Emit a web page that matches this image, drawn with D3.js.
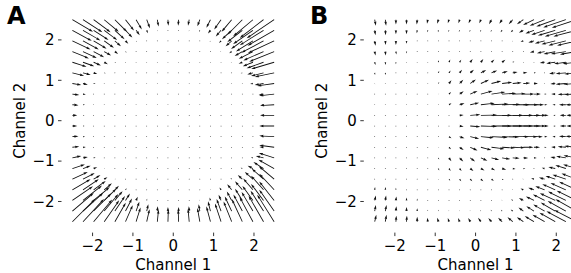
<!DOCTYPE html>
<html>
<head>
<meta charset="utf-8">
<script src="https://cdn.jsdelivr.net/npm/d3@7"></script>
<style>
  body { margin: 0; background: #fff; }
  text { font-family: "DejaVu Sans", sans-serif; fill: #000; }
</style>
</head>
<body>
<div id="chart"></div>
<script>
// grid of the quiver (20 x 20, channel values)
const gridX = [-2.5, -2.237, -1.974, -1.711, -1.447, -1.184, -0.921, -0.658, -0.395, -0.132,
               0.132, 0.395, 0.658, 0.921, 1.184, 1.447, 1.711, 1.974, 2.237, 2.5];
const gridY = [2.5, 2.237, 1.974, 1.711, 1.447, 1.184, 0.921, 0.658, 0.395, 0.132,
               -0.132, -0.395, -0.658, -0.921, -1.184, -1.447, -1.711, -1.974, -2.237, -2.5];
const ticks = [-2, -1, 0, 1, 2];

// panel A, vector components in hundredths of a channel unit (rows top -> bottom)
const aU = [
  [51,48,42,36,30,21,14,8,3,1,-1,-3,-6,-10,-17,-25,-37,-49,-59,-68],
  [48,43,37,32,24,17,9,3,1,0,0,-1,-2,-6,-13,-24,-37,-49,-59,-66],
  [45,39,32,24,15,7,2,1,0,0,0,0,-1,-2,-5,-15,-28,-42,-55,-65],
  [41,34,26,17,8,3,1,1,0,0,0,0,0,0,-2,-6,-19,-35,-50,-62],
  [35,28,18,9,3,1,0,0,0,0,0,0,0,0,0,-2,-9,-25,-42,-57],
  [29,19,9,4,1,0,0,0,0,0,0,0,0,0,0,0,-4,-14,-31,-48],
  [22,12,5,1,0,0,0,0,0,0,0,0,0,0,0,0,0,-7,-22,-42],
  [17,7,2,0,0,0,0,0,0,0,0,0,0,0,0,0,0,0,-12,-37],
  [15,5,1,0,0,0,0,0,0,0,0,0,0,0,0,0,0,0,-7,-35],
  [12,4,1,0,0,0,0,0,0,0,0,0,0,0,0,0,0,0,-5,-35],
  [12,4,1,0,0,0,0,0,0,0,0,0,0,0,0,0,0,0,-5,-37],
  [15,5,1,0,0,0,0,0,0,0,0,0,0,0,0,0,0,0,-6,-37],
  [17,7,2,0,0,0,0,0,0,0,0,0,0,0,0,0,0,0,-10,-37],
  [22,12,5,0,0,0,0,0,0,0,0,0,0,0,0,0,0,-5,-19,-38],
  [31,19,9,2,0,0,0,0,0,0,0,0,0,0,0,0,-4,-13,-25,-39],
  [38,29,17,8,2,0,0,0,0,0,0,0,0,0,0,-3,-11,-20,-29,-38],
  [45,39,30,19,10,3,1,0,0,0,0,0,0,-1,-4,-11,-18,-24,-31,-37],
  [51,47,40,30,19,11,4,1,0,0,0,0,-1,-2,-6,-12,-18,-26,-31,-37],
  [53,50,44,35,25,16,8,4,1,0,0,-1,-3,-6,-11,-17,-22,-28,-32,-37],
  [56,52,46,37,27,18,11,7,3,1,-1,-3,-6,-10,-15,-20,-26,-33,-37,-42]
];
const aV = [
  [-30,-31,-31,-30,-30,-27,-24,-21,-17,-15,-15,-15,-16,-20,-24,-30,-37,-41,-45,-46],
  [-26,-25,-24,-24,-22,-18,-12,-7,-2,-2,-2,-2,-4,-8,-15,-22,-29,-34,-37,-38],
  [-21,-21,-19,-17,-13,-7,-2,-1,-1,-1,-1,-1,-1,-2,-5,-13,-20,-26,-29,-30],
  [-17,-16,-14,-10,-6,-2,-1,0,0,0,0,0,0,0,-1,-4,-11,-18,-22,-25],
  [-11,-10,-8,-5,-2,0,0,0,0,0,0,0,0,0,0,-1,-4,-10,-15,-17],
  [-7,-5,-3,-1,0,0,0,0,0,0,0,0,0,0,0,0,-1,-4,-8,-10],
  [-4,-3,-1,0,0,0,0,0,0,0,0,0,0,0,0,0,0,-1,-4,-6],
  [-2,-1,0,0,0,0,0,0,0,0,0,0,0,0,0,0,0,0,-2,-4],
  [-1,0,0,0,0,0,0,0,0,0,0,0,0,0,0,0,0,0,-1,-2],
  [0,0,0,0,0,0,0,0,0,0,0,0,0,0,0,0,0,0,0,0],
  [0,0,0,0,0,0,0,0,0,0,0,0,0,0,0,0,0,0,0,0],
  [1,0,0,0,0,0,0,0,0,0,0,0,0,0,0,0,0,0,0,2],
  [2,1,0,0,0,0,0,0,0,0,0,0,0,0,0,0,0,0,1,5],
  [5,2,1,0,0,0,0,0,0,0,0,0,0,0,0,0,0,1,5,12],
  [10,7,3,1,0,0,0,0,0,0,0,0,0,0,0,0,2,7,16,22],
  [18,15,10,5,1,0,0,0,0,0,0,0,0,0,0,3,10,18,26,32],
  [26,26,22,16,10,4,1,0,0,0,0,0,0,2,6,14,21,28,35,40],
  [35,37,33,29,23,17,9,4,2,1,1,2,2,7,14,22,29,36,41,47],
  [45,45,44,42,37,31,23,17,12,10,10,12,17,24,30,36,41,47,50,53],
  [56,56,55,53,47,41,35,31,30,30,30,32,34,38,45,50,56,61,64,67]
];

// panel B
const bU = [
  [3,2,0,0,-1,-2,-3,-3,-3,-4,-4,-6,-7,-10,-16,-27,-37,-47,-56,-61],
  [2,1,0,0,-1,-1,-1,-2,-2,-2,-2,-2,-4,-5,-11,-21,-33,-43,-52,-57],
  [2,1,0,0,0,0,0,0,0,0,0,0,0,-2,-7,-14,-24,-34,-43,-48],
  [2,1,1,0,0,0,0,0,0,0,0,0,0,0,-2,-10,-19,-29,-37,-41],
  [2,1,0,0,0,0,1,3,4,6,6,7,8,4,2,-2,-12,-22,-29,-34],
  [1,1,0,0,0,0,2,4,6,9,13,14,14,12,10,5,-2,-15,-25,-30],
  [1,0,0,0,0,0,2,6,9,14,20,24,25,22,17,10,2,-12,-25,-32],
  [0,0,0,0,0,0,2,5,10,18,29,34,35,32,27,17,5,-10,-20,-30],
  [0,0,0,0,0,0,0,6,12,22,34,42,45,42,37,25,7,-7,-17,-27],
  [0,0,0,0,0,0,0,2,10,25,40,50,52,50,42,30,10,-5,-15,-25],
  [0,0,0,0,0,0,0,2,10,25,40,50,52,50,42,30,10,-5,-15,-25],
  [0,0,0,0,0,0,0,6,12,22,32,40,42,40,35,22,7,-7,-17,-27],
  [0,0,0,0,0,0,2,5,10,18,26,32,32,30,25,15,5,-10,-20,-30],
  [0,0,0,0,0,0,2,6,9,12,16,19,20,17,12,7,2,-12,-24,-32],
  [0,0,0,0,0,0,2,4,5,8,9,9,10,7,5,2,-7,-17,-26,-33],
  [0,0,0,0,0,0,1,3,4,5,6,6,4,2,-2,-7,-14,-24,-33,-37],
  [1,1,0,0,0,0,0,0,0,0,0,0,0,-2,-7,-14,-23,-32,-38,-43],
  [3,2,1,0,0,0,0,0,0,0,0,0,-1,-4,-11,-20,-29,-38,-44,-49],
  [3,3,1,0,0,0,-1,-1,-1,-1,-2,-2,-3,-5,-12,-19,-28,-36,-45,-52],
  [4,3,1,1,0,-1,-3,-3,-4,-5,-7,-8,-10,-13,-16,-23,-30,-39,-48,-55]
];
const bV = [
  [-15,-15,-12,-12,-12,-10,-10,-9,-9,-9,-9,-11,-10,-11,-11,-13,-15,-17,-19,-20],
  [-12,-12,-10,-10,-7,-5,-5,-4,-4,-4,-4,-4,-5,-5,-6,-8,-11,-13,-15,-15],
  [-12,-10,-10,-7,-2,-1,0,0,0,0,0,0,0,-1,-2,-4,-6,-8,-11,-11],
  [-10,-10,-7,-5,-1,0,0,0,0,0,0,0,0,0,0,-2,-4,-6,-6,-7],
  [-7,-7,-5,-2,0,0,5,7,6,8,8,7,6,2,0,0,-2,-3,-4,-4],
  [-5,-5,-2,0,0,0,5,6,8,8,7,6,4,2,1,0,0,-2,-2,-3],
  [-2,0,0,0,0,0,4,8,9,10,9,6,3,2,1,0,0,-1,-2,-2],
  [0,0,0,0,0,0,1,5,7,8,8,5,2,1,0,0,0,0,-1,-1],
  [0,0,0,0,0,0,0,4,4,5,4,2,1,0,0,0,0,0,0,0],
  [0,0,0,0,0,0,0,0,1,2,1,0,0,0,0,0,0,0,0,0],
  [0,0,0,0,0,0,0,0,-1,-2,-1,0,0,0,0,0,0,0,0,0],
  [0,0,0,0,0,0,0,-4,-4,-5,-3,-2,-1,0,0,0,0,0,1,1],
  [0,0,0,0,0,0,-1,-5,-7,-8,-7,-4,-2,-1,0,0,0,1,2,3],
  [0,0,0,0,0,0,-4,-8,-9,-9,-7,-5,-3,-1,0,0,0,2,4,6],
  [1,1,0,0,0,0,-5,-6,-6,-6,-5,-4,-3,-1,0,0,2,4,8,10],
  [2,2,1,0,0,0,-2,-4,-5,-5,-5,-4,-2,0,1,2,4,8,11,14],
  [7,7,5,2,0,0,0,0,0,0,0,0,0,1,3,5,9,14,17,20],
  [12,12,10,7,5,2,1,1,1,1,1,1,2,3,6,10,15,18,22,24],
  [15,15,12,10,7,3,3,2,2,2,2,3,3,4,9,12,16,21,25,29],
  [17,17,15,15,12,10,10,9,9,9,10,9,10,11,11,14,17,22,26,29]
];

const width = 571, height = 273;
const svg = d3.select("#chart").append("svg")
  .attr("width", width).attr("height", height)
  .attr("viewBox", `0 0 ${width} ${height}`);

const lim = 2.77;
const plotTop = 8.8, plotBottom = 232.6;

// matplotlib-like quiver arrow polygon, pixel space
const shaftW = 0.85;
function arrowPath(x0, y0, x1, y1) {
  const dx = x1 - x0, dy = y1 - y0;
  const L = Math.hypot(dx, dy);
  if (L < shaftW) {
    const r = shaftW * 0.5;
    const pts = d3.range(6).map(k => [x0 + r * Math.cos(k * Math.PI / 3), y0 + r * Math.sin(k * Math.PI / 3)]);
    return "M" + pts.map(p => p[0].toFixed(2) + "," + p[1].toFixed(2)).join("L") + "Z";
  }
  const w = shaftW, minsh = 5 * w;
  const L0 = Math.max(L, minsh), s = L / L0;
  const hal = 4.5 * w, hl = 5 * w, hw = 1.5 * w;
  const local = [[0, 0.5 * w], [L0 - hal, 0.5 * w], [L0 - hl, hw], [L0, 0],
                 [L0 - hl, -hw], [L0 - hal, -0.5 * w], [0, -0.5 * w]];
  const c = dx / L, sn = dy / L;
  const pts = local.map(([px, py]) => [x0 + s * (px * c - py * sn), y0 + s * (px * sn + py * c)]);
  return "M" + pts.map(p => p[0].toFixed(2) + "," + p[1].toFixed(2)).join("L") + "Z";
}

const fmt = d => String(d).replace("-", "\u2212");

function panel(letter, left, U, V, letterX) {
  const x = d3.scaleLinear().domain([-lim, lim]).range([left, left + 2 * lim * 40.35]);
  const y = d3.scaleLinear().domain([-lim, lim]).range([plotBottom, plotTop]);
  const g = svg.append("g");

  const cells = [];
  gridY.forEach((gy, j) => gridX.forEach((gx, i) => {
    cells.push({ x: gx, y: gy, u: U[j][i] / 100, v: V[j][i] / 100 });
  }));

  g.append("g").selectAll("path").data(cells).join("path")
    .attr("d", d => arrowPath(x(d.x), y(d.y), x(d.x + d.u), y(d.y + d.v)))
    .attr("fill", "#111");

  // x axis
  const xa = g.append("g").attr("transform", `translate(0,${plotBottom})`);
  xa.selectAll("line").data(ticks).join("line")
    .attr("x1", d => x(d)).attr("x2", d => x(d))
    .attr("y1", 0).attr("y2", 3.5)
    .attr("stroke", "#000").attr("stroke-width", 0.8);
  xa.selectAll("text").data(ticks).join("text")
    .attr("x", d => x(d)).attr("y", 18)
    .attr("text-anchor", "middle").style("font-size", "15px")
    .text(fmt);

  // y axis
  const ya = g.append("g").attr("transform", `translate(${x(-lim)},0)`);
  ya.selectAll("line").data(ticks).join("line")
    .attr("y1", d => y(d)).attr("y2", d => y(d))
    .attr("x1", 0).attr("x2", -3.5)
    .attr("stroke", "#000").attr("stroke-width", 0.8);
  ya.selectAll("text").data(ticks).join("text")
    .attr("x", -7).attr("y", d => y(d)).attr("dy", "0.36em")
    .attr("text-anchor", "end").style("font-size", "15px")
    .text(fmt);

  g.append("text")
    .attr("x", x(0)).attr("y", 269.5)
    .attr("text-anchor", "middle").style("font-size", "15px")
    .text("Channel 1");

  g.append("text")
    .attr("transform", `translate(${x(-lim) - 36.5},${y(0)}) rotate(-90)`)
    .attr("text-anchor", "middle").style("font-size", "15px")
    .text("Channel 2");

  g.append("text")
    .attr("x", letterX).attr("y", 24)
    .style("font-size", "24px").style("font-weight", "bold")
    .text(letter);
}

panel("A", 61.5, aU, aV, 7);
panel("B", 363.8, bU, bV, 310);
</script>
</body>
</html>
